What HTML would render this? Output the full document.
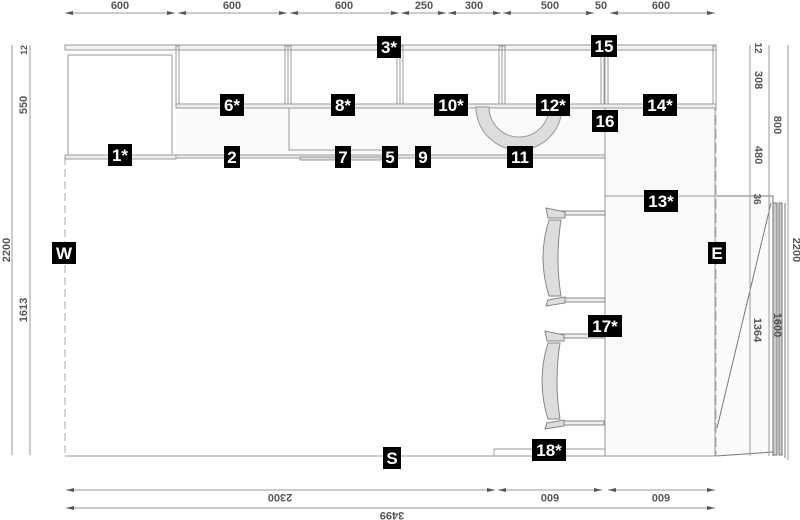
<!DOCTYPE html>
<html><head><meta charset="utf-8"><style>
html,body{margin:0;padding:0;background:#fff;}
svg{display:block;font-family:"Liberation Sans",sans-serif;}
.d{fill:#555;font-size:11px;font-weight:bold;}
.l{stroke:#999;stroke-width:1;fill:none;}
.lb rect{fill:#000;}
.lb text{fill:#fff;font-size:17px;font-weight:bold;text-anchor:middle;}
</style></head><body>
<svg width="800" height="520" viewBox="0 0 800 520" xmlns="http://www.w3.org/2000/svg">
<defs><marker id="a" markerWidth="8" markerHeight="6" refX="8" refY="3" orient="auto"><path d="M0,1 L8,3 L0,5z" fill="#555"/></marker></defs>

<g class="l" marker-end="url(#a)">
<line x1="120" y1="13" x2="65" y2="13"/><line x1="120" y1="13" x2="175" y2="13"/>
<line x1="232" y1="13" x2="178" y2="13"/><line x1="232" y1="13" x2="287" y2="13"/>
<line x1="344" y1="13" x2="290" y2="13"/><line x1="344" y1="13" x2="399" y2="13"/>
<line x1="424" y1="13" x2="401" y2="13"/><line x1="424" y1="13" x2="446" y2="13"/>
<line x1="474" y1="13" x2="448" y2="13"/><line x1="474" y1="13" x2="501" y2="13"/>
<line x1="550" y1="13" x2="503" y2="13"/><line x1="550" y1="13" x2="594" y2="13"/>
<line x1="660" y1="13" x2="610" y2="13"/><line x1="660" y1="13" x2="715" y2="13"/>
</g>
<g class="d" text-anchor="middle">
<text x="120" y="9">600</text><text x="232" y="9">600</text><text x="344" y="9">600</text>
<text x="424" y="9">250</text><text x="474" y="9">300</text><text x="550" y="9">500</text>
<text x="601" y="9">50</text><text x="661" y="9">600</text>
</g>

<line class="l" x1="12" y1="45" x2="12" y2="455"/>
<line class="l" x1="30" y1="45" x2="30" y2="455"/>
<g class="d" text-anchor="middle">
<text transform="translate(10,250) rotate(-90)">2200</text>
<text transform="translate(27,105) rotate(-90)">550</text>
<text transform="translate(27,50) rotate(-90)" font-size="9">12</text>
<text transform="translate(27,310) rotate(-90)">1613</text>
</g>

<rect x="176" y="107" width="429" height="50" fill="#fcf9f9"/>
<rect x="605" y="107" width="110" height="89" fill="#fbf8f8" stroke="#999"/>
<rect x="605" y="196" width="110" height="260" fill="#fcf9f9" stroke="#999"/>
<path d="M716,196 L773,196 L773,456 L716,456z" fill="#fcf9f9"/>

<line x1="65" y1="157" x2="65" y2="456" stroke="#aaa" stroke-dasharray="8,4"/>
<line x1="65" y1="456" x2="605" y2="456" stroke="#999"/>
<line x1="716" y1="45" x2="716" y2="456" stroke="#aaa" stroke-dasharray="10,4"/>

<rect x="65" y="45" width="651" height="5" fill="#f3f3f3" stroke="#999"/>
<rect x="68" y="55" width="104" height="102" fill="none" stroke="#999"/>
<rect x="65" y="155" width="111" height="4" fill="#eee" stroke="#999"/>
<g stroke="#999" fill="none">
<rect x="176" y="46" width="3" height="61"/><rect x="285" y="46" width="3" height="61"/>
<rect x="288" y="46" width="3" height="61"/><rect x="397" y="46" width="3" height="61"/>
<rect x="400" y="46" width="3" height="61"/><rect x="499" y="46" width="3" height="61"/>
<rect x="502" y="46" width="3" height="61"/><rect x="601" y="46" width="3" height="61"/>
<rect x="605" y="46" width="3" height="61"/><rect x="713" y="46" width="3" height="61"/>
</g>
<rect x="176" y="104" width="540" height="4" fill="#eee" stroke="#999"/>
<path d="M289,108 L289,150 L383,150" stroke="#999" fill="none"/>
<rect x="176" y="155" width="429" height="3" fill="#eee" stroke="#999"/>
<rect x="300" y="157" width="82" height="3" fill="#ddd" stroke="#999"/>

<path d="M476,107 A43,43 0 0 0 562,107 L549,107 A30,30 0 0 1 489,107z" fill="#ddd" stroke="#999"/>

<g id="ch" stroke="#888" fill="none">
<rect x="560" y="211" width="45" height="4" fill="#eee"/>
<rect x="560" y="298" width="45" height="4" fill="#eee"/>
<path d="M546,208 L565,212 L565,218 L548,218z" fill="#ddd"/>
<path d="M548,300 L565,297 L565,303 L546,306z" fill="#ddd"/>
<path d="M549,220 Q537,258 549,296 L561,296 Q555,258 561,220z" fill="#ddd"/>
</g>
<use href="#ch" transform="translate(-1,123)"/>
<rect x="494" y="449" width="111" height="7" fill="#fff" stroke="#999"/>

<path d="M716,196 L773,196 L773,203 M716,456 L773,452 L773,456 M771,203 L717,428" stroke="#777" fill="none"/>
<rect x="773" y="203" width="4" height="252" fill="#ccc" stroke="#777"/>
<rect x="779" y="203" width="3" height="252" fill="#ccc" stroke="#777"/>
<line x1="785" y1="203" x2="785" y2="458" stroke="#777"/>

<g class="l">
<line x1="750" y1="45" x2="750" y2="456"/><line x1="769" y1="45" x2="769" y2="456"/><line x1="788" y1="45" x2="788" y2="460"/>
</g>
<g class="d" text-anchor="middle">
<text transform="translate(755,48) rotate(90)" font-size="10">12</text>
<text transform="translate(755,80) rotate(90)">308</text>
<text transform="translate(755,155) rotate(90)">480</text>
<text transform="translate(774,125) rotate(90)">800</text>
<text transform="translate(754,199) rotate(90)" font-size="10">36</text>
<text transform="translate(793,250) rotate(90)">2200</text>
<text transform="translate(754,330) rotate(90)">1364</text>
<text transform="translate(774,325) rotate(90)">1600</text>
</g>

<g class="l" marker-end="url(#a)">
<line x1="280" y1="490" x2="66" y2="490"/><line x1="280" y1="490" x2="495" y2="490"/>
<line x1="550" y1="490" x2="498" y2="490"/><line x1="550" y1="490" x2="602" y2="490"/>
<line x1="660" y1="490" x2="608" y2="490"/><line x1="660" y1="490" x2="715" y2="490"/>
<line x1="392" y1="508" x2="66" y2="508"/><line x1="392" y1="508" x2="715" y2="508"/>
</g>
<g class="d" text-anchor="middle">
<text transform="translate(280,494) rotate(180)">2300</text>
<text transform="translate(550,494) rotate(180)">600</text>
<text transform="translate(661,494) rotate(180)">600</text>
<text transform="translate(392,512) rotate(180)">3499</text>
</g>

<g class="lb">
<g transform="translate(120,155)"><rect x="-12" y="-11" width="24" height="22"/><text y="6">1*</text></g>
<g transform="translate(232,157)"><rect x="-8" y="-11" width="16" height="22"/><text y="6">2</text></g>
<g transform="translate(389,47)"><rect x="-12" y="-11" width="24" height="22"/><text y="6">3*</text></g>
<g transform="translate(390,157)"><rect x="-8" y="-11" width="16" height="22"/><text y="6">5</text></g>
<g transform="translate(232,105)"><rect x="-12" y="-11" width="24" height="22"/><text y="6">6*</text></g>
<g transform="translate(343,157)"><rect x="-8" y="-11" width="16" height="22"/><text y="6">7</text></g>
<g transform="translate(343,105)"><rect x="-12" y="-11" width="24" height="22"/><text y="6">8*</text></g>
<g transform="translate(423,157)"><rect x="-8" y="-11" width="16" height="22"/><text y="6">9</text></g>
<g transform="translate(451,105)"><rect x="-17" y="-11" width="34" height="22"/><text y="6">10*</text></g>
<g transform="translate(520,157)"><rect x="-13" y="-11" width="26" height="22"/><text y="6">11</text></g>
<g transform="translate(553,105)"><rect x="-17" y="-11" width="34" height="22"/><text y="6">12*</text></g>
<g transform="translate(661,201)"><rect x="-17" y="-11" width="34" height="22"/><text y="6">13*</text></g>
<g transform="translate(660,105)"><rect x="-17" y="-11" width="34" height="22"/><text y="6">14*</text></g>
<g transform="translate(604,46)"><rect x="-13" y="-11" width="26" height="22"/><text y="6">15</text></g>
<g transform="translate(605,121)"><rect x="-13" y="-11" width="26" height="22"/><text y="6">16</text></g>
<g transform="translate(605,326)"><rect x="-17" y="-11" width="34" height="22"/><text y="6">17*</text></g>
<g transform="translate(549,450)"><rect x="-17" y="-11" width="34" height="22"/><text y="6">18*</text></g>
<g transform="translate(64,253)"><rect x="-12" y="-11" width="24" height="22"/><text y="6">W</text></g>
<g transform="translate(717,253)"><rect x="-9" y="-11" width="18" height="22"/><text y="6">E</text></g>
<g transform="translate(392,458)"><rect x="-9" y="-11" width="18" height="22"/><text y="6">S</text></g>
</g>
</svg>
</body></html>
